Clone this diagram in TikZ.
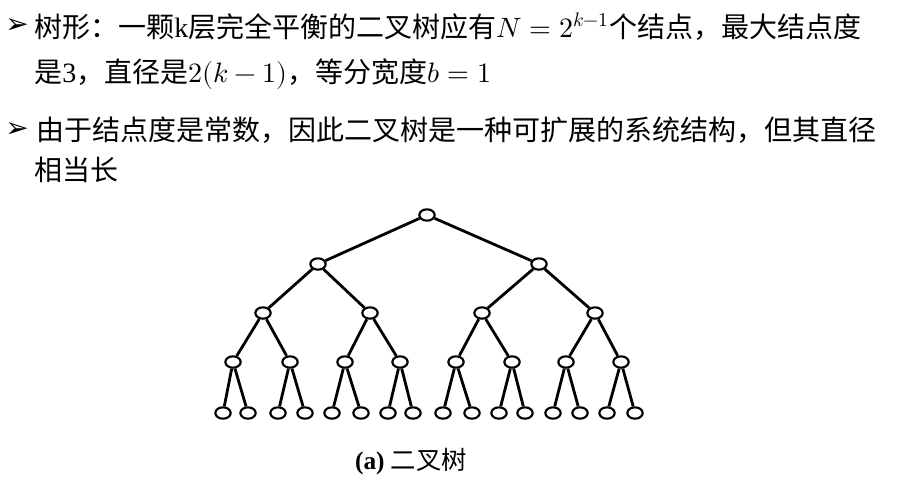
\documentclass[tikz,border=0pt]{standalone}
\usepackage{fontspec}
\usepackage{unicode-math}
\setmainfont{Liberation Serif}
\newfontfamily\cjk{Noto Sans CJK SC}
\newfontfamily\dingfont{DejaVu Sans}
\usetikzlibrary{shapes.geometric}
\tikzset{
  vtx/.style={draw, ellipse, line width=1.6pt, minimum width=11.5pt,
              minimum height=8.5pt, inner sep=0pt, fill=white},
  edge/.style={line width=2.1pt},
  txt/.style={anchor=base west, inner sep=0pt,
              font=\fontsize{21}{25}\selectfont\cjk},
  bul/.style={inner sep=0pt, font=\fontsize{21}{24}\selectfont\dingfont},
}
\begin{document}
\begin{tikzpicture}[x=0.75pt, y=-0.75pt]
    \useasboundingbox (0,0) rectangle (905,482);

    % --- bullet points --------------------------------------------------
    \node[bul] (bul1) at (17,26) {➢};
    \node[txt] (line1) at (34,37)
      {树形：一颗{\rmfamily k}层完全平衡的二叉树应有$N=2^{k-1}$个结点，最大结点度};
    \node[txt] (line2) at (34,82)
      {是{\rmfamily 3}，直径是$2(k-1)$，等分宽度$b=1$};
    \node[bul] (bul3) at (17,130) {➢};
    \node[txt] (line3) at (36,140)
      {由于结点度是常数，因此二叉树是一种可扩展的系统结构，但其直径};
    \node[txt] (line4) at (34,180) {相当长};

    % --- binary tree, nodes numbered as a heap ---------------------------
    \node[vtx] (n1) at (427,215) {};
    \foreach \x [count=\i from 2] in {318,539}
      \node[vtx] (n\i) at (\x,264) {};
    \foreach \x [count=\i from 4] in {263,370,482,595}
      \node[vtx] (n\i) at (\x,313) {};
    \foreach \x [count=\i from 8] in {233,290,345,400,456,512,566,621}
      \node[vtx] (n\i) at (\x,362) {};
    \foreach \x [count=\i from 16] in
        {223,248,278,305,332,361,388,413,443,472,499,525,553,580,607,635}
      \node[vtx] (n\i) at (\x,413) {};

    % edges: child i hangs from node floor(i/2)
    \foreach \i in {2,...,31} {
      \pgfmathtruncatemacro{\p}{\i/2}
      \draw[edge] (n\p) -- (n\i);
    }

    % caption
    \node[inner sep=0pt, font=\fontsize{19}{22}\selectfont] (cap) at (411,462)
      {\textbf{(a)} {\cjk 二叉树}};
\end{tikzpicture}
\end{document}
